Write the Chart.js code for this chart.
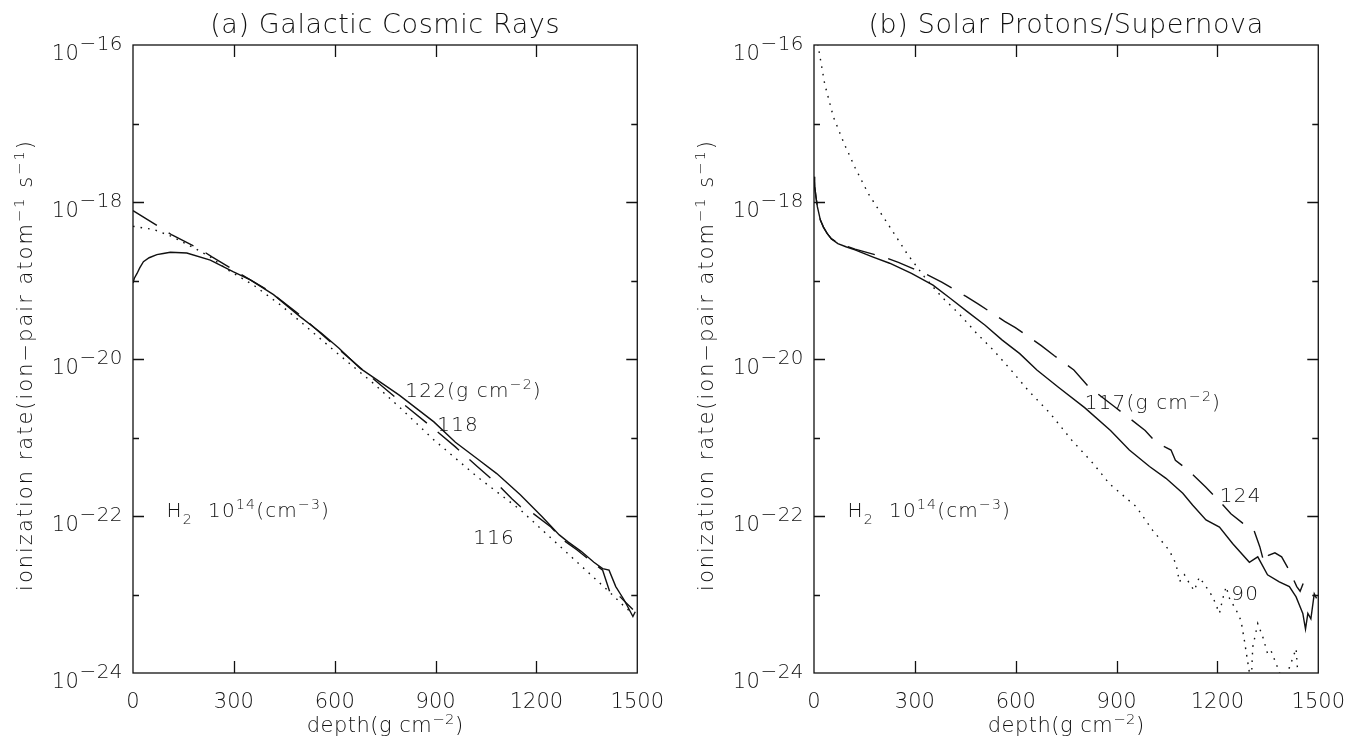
<!DOCTYPE html>
<html><head><meta charset="utf-8">
<script src="https://cdn.jsdelivr.net/npm/chart.js@4.4.1/dist/chart.umd.min.js"></script>
<style>
html,body{margin:0;padding:0;background:#fff;}
#wrap{position:relative;width:1362px;height:741px;overflow:hidden;}
canvas{position:absolute;top:0;}
</style>
</head><body>
<div id="wrap">
<canvas id="ca" width="681" height="741" style="left:0"></canvas>
<canvas id="cb" width="681" height="741" style="left:681px"></canvas>
</div>
<script>
// ---------- data ----------
const depthTicks = [0, 300, 600, 900, 1200, 1500];
const decadeExps = [-24, -23, -22, -21, -20, -19, -18, -17, -16];
const labelExps = [-24, -22, -20, -18, -16];

// (a) Galactic Cosmic Rays
const gcrSolidDepth = [0, 4, 12, 20, 31, 48, 71, 90, 111, 160, 230, 299, 349, 418, 497, 560, 612, 676, 792, 895, 959, 1024, 1082, 1152, 1217, 1268, 1294, 1333, 1371, 1397, 1416, 1436, 1461, 1487, 1494];
const gcrSolidRate = [9.3e-20, 1.07e-19, 1.23e-19, 1.45e-19, 1.74e-19, 1.95e-19, 2.14e-19, 2.21e-19, 2.29e-19, 2.24e-19, 1.82e-19, 1.29e-19, 1.02e-19, 6.61e-20, 3.47e-20, 2.14e-20, 1.38e-20, 7.59e-21, 3.47e-21, 1.58e-21, 8.71e-22, 5.37e-22, 3.47e-22, 1.86e-22, 9.77e-23, 5.75e-23, 4.68e-23, 3.55e-23, 2.57e-23, 2.14e-23, 2.04e-23, 1.26e-23, 8.51e-24, 5.25e-24, 6.03e-24];

const gcrDashDepth = [0, 76, 116, 195, 235, 309, 400, 497, 600, 700, 792, 895, 959, 1024, 1088, 1127, 1152, 1191, 1243, 1281, 1320, 1358, 1397, 1423, 1449, 1468, 1487];
const gcrDashRate = [7.76e-19, 4.90e-19, 3.80e-19, 2.57e-19, 2.00e-19, 1.29e-19, 7.59e-20, 3.63e-20, 1.48e-20, 6.31e-21, 2.95e-21, 1.29e-21, 7.59e-22, 4.27e-22, 2.45e-22, 1.66e-22, 1.32e-22, 1.07e-22, 7.24e-23, 4.90e-23, 3.72e-23, 2.75e-23, 2.04e-23, 9.33e-24, 9.33e-24, 7.76e-24, 6.46e-24];

const gcrDotDepth = [0, 61, 116, 175, 230, 280, 359, 438, 497, 600, 715, 792, 895, 1024, 1152, 1281, 1410, 1461, 1480];
const gcrDotRate = [4.90e-19, 4.47e-19, 3.63e-19, 2.69e-19, 2.00e-19, 1.38e-19, 8.71e-20, 4.90e-20, 3.02e-20, 1.26e-20, 4.90e-21, 2.45e-21, 9.33e-22, 3.16e-22, 1.20e-22, 3.72e-23, 1.15e-23, 7.08e-24, 6.03e-24];

// (b) Solar Protons / Supernova
const spSolidDepth = [0, 2, 6, 10, 19, 28, 39, 52, 71, 95, 122, 174, 225, 290, 354, 406, 457, 509, 560, 612, 663, 727, 805, 882, 938, 998, 1047, 1097, 1126, 1166, 1206, 1245, 1295, 1320, 1349, 1384, 1414, 1434, 1454, 1462, 1469, 1478, 1488, 1495];
const spSolidRate = [2.09e-18, 1.58e-18, 1.15e-18, 8.71e-19, 5.89e-19, 4.79e-19, 3.98e-19, 3.39e-19, 2.95e-19, 2.69e-19, 2.45e-19, 2.00e-19, 1.66e-19, 1.23e-19, 8.71e-20, 5.89e-20, 3.98e-20, 2.69e-20, 1.74e-20, 1.17e-20, 7.24e-21, 4.37e-21, 2.40e-21, 1.23e-21, 6.92e-22, 4.27e-22, 3.02e-22, 1.95e-22, 1.38e-22, 8.91e-23, 7.24e-23, 4.47e-23, 2.57e-23, 3.02e-23, 1.78e-23, 1.45e-23, 1.26e-23, 9.33e-24, 5.75e-24, 3.63e-24, 5.75e-24, 4.90e-24, 1.02e-23, 8.91e-24];

const spDashDepth = [0, 2, 6, 10, 19, 28, 39, 52, 71, 95, 122, 206, 251, 335, 380, 451, 489, 567, 599, 676, 715, 773, 818, 895, 985, 1017, 1062, 1075, 1114, 1165, 1204, 1240, 1275, 1307, 1326, 1339, 1352, 1371, 1391, 1416, 1436, 1446, 1455];
const spDashRate = [2.09e-18, 1.58e-18, 1.15e-18, 8.71e-19, 5.89e-19, 4.79e-19, 3.98e-19, 3.39e-19, 3.02e-19, 2.75e-19, 2.51e-19, 2.00e-19, 1.70e-19, 1.20e-19, 9.55e-20, 6.31e-20, 5.01e-20, 3.02e-20, 2.51e-20, 1.48e-20, 1.10e-20, 7.24e-21, 4.37e-21, 2.45e-21, 1.23e-21, 8.71e-22, 6.92e-22, 5.13e-22, 3.80e-22, 2.34e-22, 1.58e-22, 1.07e-22, 8.13e-23, 6.92e-23, 4.07e-23, 2.51e-23, 3.16e-23, 3.39e-23, 3.02e-23, 1.95e-23, 1.26e-23, 1.10e-23, 1.38e-23];

const spDotDepth = [0, 13, 32, 58, 90, 122, 161, 200, 238, 277, 328, 380, 431, 483, 534, 586, 637, 702, 766, 830, 879, 958, 1007, 1057, 1077, 1087, 1102, 1117, 1131, 1146, 1166, 1186, 1206, 1216, 1226, 1236, 1256, 1270, 1280, 1295, 1300, 1305, 1320, 1335, 1349, 1359, 1379, 1394, 1414, 1434, 1439, 1445];
const spDotRate = [2.00e-16, 9.33e-17, 3.16e-17, 1.20e-17, 5.50e-18, 2.75e-18, 1.29e-18, 7.08e-19, 3.98e-19, 2.19e-19, 1.12e-19, 6.17e-20, 3.80e-20, 2.14e-20, 1.29e-20, 7.24e-21, 3.98e-21, 2.04e-21, 9.33e-22, 4.68e-22, 2.57e-22, 1.32e-22, 6.61e-23, 3.63e-23, 2.45e-23, 1.45e-23, 1.78e-23, 1.38e-23, 1.12e-23, 1.66e-23, 1.26e-23, 9.33e-24, 5.75e-24, 8.91e-24, 1.26e-23, 8.91e-24, 6.31e-24, 4.68e-24, 2.63e-24, 1.02e-24, 6.31e-25, 2.14e-24, 4.27e-24, 2.88e-24, 1.78e-24, 1.95e-24, 1.17e-24, 7.94e-25, 1.17e-24, 2.04e-24, 1.00e-24, 5.01e-25];

// text annotations (depth, rate) positions
const gcrNotes = [
  {parts: [['122(g cm', 0], ['\u22122', 1], [')', 0]], x: 810, y: 4.0e-21},
  {parts: [['118', 0]], x: 905, y: 1.5e-21},
  {parts: [['116', 0]], x: 1012, y: 5.4e-23},
  {parts: [['H', 0], ['2', 2], ['  10', 0], ['14', 1], ['(cm', 0], ['\u22123', 1], [')', 0]], x: 100, y: 1.2e-22}
];
const spNotes = [
  {parts: [['117(g cm', 0], ['\u22122', 1], [')', 0]], x: 805, y: 2.8e-21},
  {parts: [['124', 0]], x: 1207, y: 1.85e-22},
  {parts: [['90', 0]], x: 1241, y: 1.05e-23},
  {parts: [['H', 0], ['2', 2], ['  10', 0], ['14', 1], ['(cm', 0], ['\u22123', 1], [')', 0]], x: 100, y: 1.2e-22}
];

// ---------- drawing helpers ----------
const FAMILY = '"DejaVu Sans", sans-serif';
const WEIGHT = '300';
const INK = '#111';

function partSize(k, size, o) { return k === 0 ? size : (k === 1 ? size * o.supScale : size * o.subScale); }
function setFont(ctx, k, size, o) {
  ctx.font = `${WEIGHT} ${partSize(k, size, o)}px ${FAMILY}`;
  ctx.letterSpacing = (o.ls || 0) + 'px';
}
function richWidth(ctx, parts, size, o) {
  let w = 0;
  for (const [t, k] of parts) { setFont(ctx, k, size, o); w += ctx.measureText(t).width; }
  return w;
}
function drawRich(ctx, parts, x, y, size, align, o) {
  const w = richWidth(ctx, parts, size, o);
  let cx = align === 'right' ? x - w : (align === 'center' ? x - w / 2 : x);
  ctx.textAlign = 'left';
  ctx.textBaseline = 'alphabetic';
  ctx.fillStyle = INK;
  for (const [t, k] of parts) {
    setFont(ctx, k, size, o);
    const dy = k === 1 ? -o.supRise : (k === 2 ? o.subDrop : 0);
    ctx.fillText(t, cx, y + dy);
    cx += ctx.measureText(t).width;
  }
  ctx.letterSpacing = '0px';
}

function makeSeries(depths, rates) { return depths.map((d, i) => ({x: d, y: rates[i]})); }

function framePlugin(title, notes) {
  return {
    id: 'frame',
    afterDraw(chart) {
      const ctx = chart.ctx, a = chart.chartArea, xs = chart.scales.x, ys = chart.scales.y;
      ctx.save();
      ctx.strokeStyle = INK; ctx.lineWidth = 1.3;
      ctx.strokeRect(a.left, a.top, a.right - a.left, a.bottom - a.top);
      ctx.beginPath();
      for (const v of depthTicks) {
        if (v === 0 || v === 1500) continue;
        const px = Math.round(xs.getPixelForValue(v)) + 0.5;
        ctx.moveTo(px, a.bottom); ctx.lineTo(px, a.bottom - 12);
        ctx.moveTo(px, a.top); ctx.lineTo(px, a.top + 12);
      }
      for (const e of decadeExps) {
        if (e === -24 || e === -16) continue;
        const py = Math.round(ys.getPixelForValue(Math.pow(10, e))) + 0.5;
        const len = (e % 2 === 0) ? 11 : 6;
        ctx.moveTo(a.left, py); ctx.lineTo(a.left + len, py);
        ctx.moveTo(a.right, py); ctx.lineTo(a.right - len, py);
      }
      ctx.stroke();
      // y tick labels
      const tickO = {supScale: 0.95, supRise: 10, subScale: 0.7, subDrop: 6, ls: 0.5};
      for (const e of labelExps) {
        const py = ys.getPixelForValue(Math.pow(10, e));
        drawRich(ctx, [['10', 0], ['\u2212' + Math.abs(e), 1]], a.left - 10, py + 15, 21, 'right', tickO);
      }
      const smallO = {supScale: 0.7, supRise: 8, subScale: 0.7, subDrop: 7, ls: 0.5};
      // title
      drawRich(ctx, [[title, 0]], (a.left + a.right) / 2, 33, 27, 'center', {supScale: 1, supRise: 0, subScale: 1, subDrop: 0, ls: 0.6});
      // x title
      drawRich(ctx, [['depth(g cm', 0], ['\u22122', 1], [')', 0]], (a.left + a.right) / 2, 732, 21, 'center', smallO);
      // y title
      ctx.save();
      ctx.translate(32, 365);
      ctx.rotate(-Math.PI / 2);
      drawRich(ctx, [['ionization rate(ion\u2212pair atom', 0], ['\u22121', 1], [' s', 0], ['\u22121', 1], [')', 0]], 0, 0, 21, 'center',
               {supScale: 0.7, supRise: 8, subScale: 0.7, subDrop: 7, ls: 2});
      ctx.restore();
      // annotations
      const noteO = {supScale: 0.7, supRise: 8, subScale: 0.7, subDrop: 7, ls: 1.2};
      for (const n of notes) {
        const px = xs.getPixelForValue(n.x), py = ys.getPixelForValue(n.y);
        drawRich(ctx, n.parts, px, py + 7, 20, 'left', noteO);
      }
      ctx.restore();
    }
  };
}

function makeChart(id, title, solid, dash, dot, notes) {
  const lineBase = {borderColor: '#111', borderWidth: 1.4, pointRadius: 0, tension: 0, fill: false};
  return new Chart(document.getElementById(id), {
    type: 'line',
    data: {
      datasets: [
        Object.assign({label: 'solid', data: solid}, lineBase),
        Object.assign({label: 'dashed', data: dash, borderDash: [28, 14]}, lineBase),
        Object.assign({label: 'dotted', data: dot, borderDash: [1.6, 6]}, lineBase)
      ]
    },
    options: {
      responsive: false, animation: false, devicePixelRatio: 1,
      layout: {padding: {left: 133, right: 43, top: 45, bottom: 0}},
      plugins: {legend: {display: false}, tooltip: {enabled: false}, title: {display: false}},
      scales: {
        x: {
          type: 'linear', min: 0, max: 1500,
          grid: {display: false, drawTicks: false},
          border: {display: false},
          ticks: {stepSize: 300, autoSkip: false, maxRotation: 0, padding: 17, color: INK,
                  font: {family: FAMILY, size: 21, weight: WEIGHT},
                  callback: (v) => String(v)},
          afterFit(s) { s.height = 68; }
        },
        y: {type: 'logarithmic', min: 1e-24, max: 1e-16, display: false}
      }
    },
    plugins: [framePlugin(title, notes)]
  });
}

makeChart('ca', '(a) Galactic Cosmic Rays',
  makeSeries(gcrSolidDepth, gcrSolidRate), makeSeries(gcrDashDepth, gcrDashRate), makeSeries(gcrDotDepth, gcrDotRate), gcrNotes);
makeChart('cb', '(b) Solar Protons/Supernova',
  makeSeries(spSolidDepth, spSolidRate), makeSeries(spDashDepth, spDashRate), makeSeries(spDotDepth, spDotRate), spNotes);
</script>
</body></html>
